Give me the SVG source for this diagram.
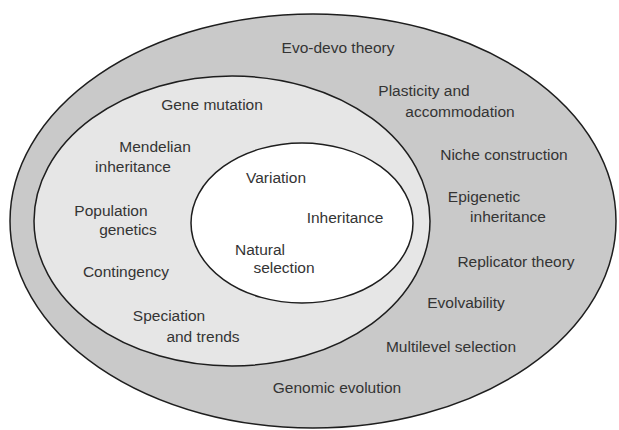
<svg xmlns="http://www.w3.org/2000/svg" width="619" height="430" viewBox="0 0 619 430">
<style>
.t{font-family:"Liberation Sans",Arial,sans-serif;font-size:15.5px;fill:#343434;text-anchor:middle}
.e{stroke:#1e1e1e;stroke-width:1.5}
</style>
<rect width="619" height="430" fill="#fff"/>
<g id="outer">
<ellipse class="e" cx="313" cy="221" rx="303" ry="207" fill="#c9c9c9"/>
<text class="t" x="338" y="53">Evo-devo theory</text>
<text class="t" x="424" y="96">Plasticity and</text>
<text class="t" x="460" y="117">accommodation</text>
<text class="t" x="504" y="160">Niche construction</text>
<text class="t" x="484" y="202">Epigenetic</text>
<text class="t" x="508" y="222">inheritance</text>
<text class="t" x="516" y="267">Replicator theory</text>
<text class="t" x="466" y="308">Evolvability</text>
<text class="t" x="451" y="352">Multilevel selection</text>
<text class="t" x="337" y="393">Genomic evolution</text>
</g>
<g id="middle">
<ellipse class="e" cx="232" cy="221" rx="198" ry="145" fill="#e6e6e6"/>
<text class="t" x="212" y="110">Gene mutation</text>
<text class="t" x="155" y="152">Mendelian</text>
<text class="t" x="133" y="172">inheritance</text>
<text class="t" x="111" y="216">Population</text>
<text class="t" x="128" y="235">genetics</text>
<text class="t" x="126" y="277">Contingency</text>
<text class="t" x="169" y="321">Speciation</text>
<text class="t" x="203" y="342">and trends</text>
</g>
<g id="inner">
<ellipse class="e" cx="302" cy="223" rx="111" ry="80" fill="#fff"/>
<text class="t" x="276" y="183">Variation</text>
<text class="t" x="345" y="223">Inheritance</text>
<text class="t" x="260" y="255">Natural</text>
<text class="t" x="284" y="273">selection</text>
</g>
<g id="connectors"/>
</svg>
